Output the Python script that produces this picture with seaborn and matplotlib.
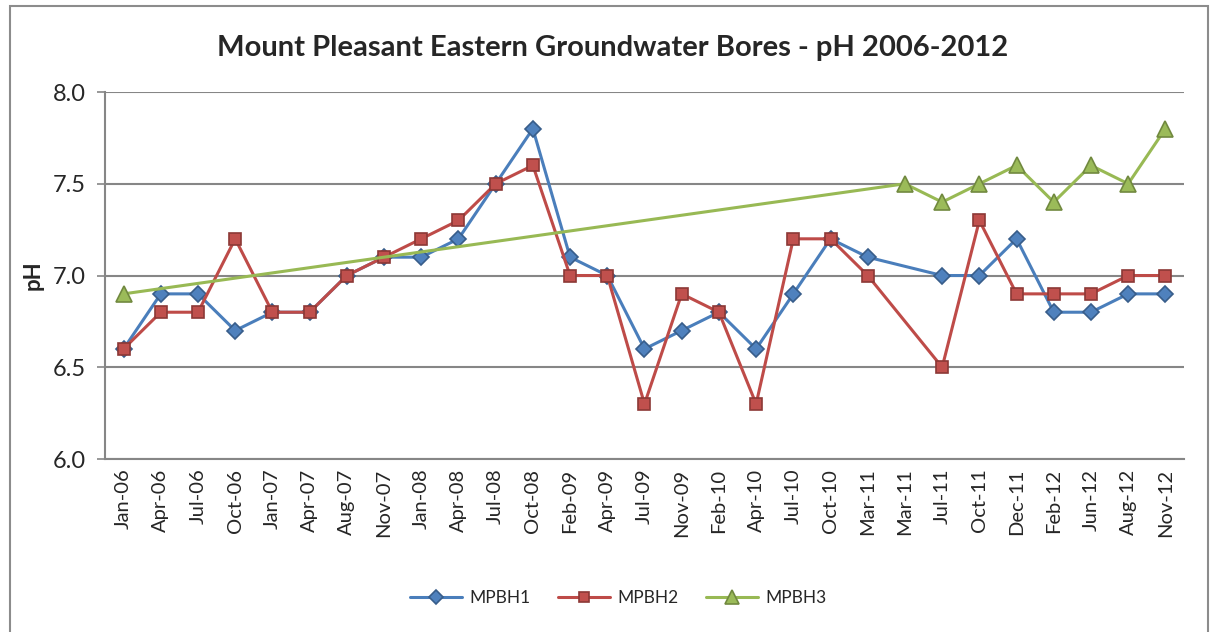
import numpy as np
import pandas as pd
import matplotlib
matplotlib.use("Agg")
import matplotlib.pyplot as plt
import seaborn as sns
from matplotlib.patches import Rectangle
from matplotlib.lines import Line2D

sns.set_theme(style="white")
plt.rcParams['font.family'] = ['Lato', 'DejaVu Sans']

# 数据
dates = ['Jan-06', 'Apr-06', 'Jul-06', 'Oct-06', 'Jan-07', 'Apr-07', 'Aug-07', 'Nov-07',
         'Jan-08', 'Apr-08', 'Jul-08', 'Oct-08', 'Feb-09', 'Apr-09', 'Jul-09', 'Nov-09',
         'Feb-10', 'Apr-10', 'Jul-10', 'Oct-10', 'Mar-11', 'Mar-11', 'Jul-11', 'Oct-11',
         'Dec-11', 'Feb-12', 'Jun-12', 'Aug-12', 'Nov-12']
nan = np.nan
mpbh1 = [6.6, 6.9, 6.9, 6.7, 6.8, 6.8, 7.0, 7.1, 7.1, 7.2, 7.5, 7.8, 7.1, 7.0, 6.6, 6.7,
         6.8, 6.6, 6.9, 7.2, 7.1, nan, 7.0, 7.0, 7.2, 6.8, 6.8, 6.9, 6.9]
mpbh2 = [6.6, 6.8, 6.8, 7.2, 6.8, 6.8, 7.0, 7.1, 7.2, 7.3, 7.5, 7.6, 7.0, 7.0, 6.3, 6.9,
         6.8, 6.3, 7.2, 7.2, 7.0, nan, 6.5, 7.3, 6.9, 6.9, 6.9, 7.0, 7.0]
mpbh3 = [6.9, nan, nan, nan, nan, nan, nan, nan, nan, nan, nan, nan, nan, nan, nan, nan,
         nan, nan, nan, nan, nan, 7.5, 7.4, 7.5, 7.6, 7.4, 7.6, 7.5, 7.8]

series = {'MPBH1': mpbh1, 'MPBH2': mpbh2, 'MPBH3': mpbh3}
styles = {
    'MPBH1': dict(color='#4A7EBB', marker='D', mfc='#4F81BD', mec='#385D8A', ms=8.5),
    'MPBH2': dict(color='#BE4B48', marker='s', mfc='#C0504D', mec='#8C3836', ms=9),
    'MPBH3': dict(color='#98B954', marker='^', mfc='#9BBB59', mec='#71893F', ms=11.5),
}

fig = plt.figure(figsize=(12.15, 6.32), dpi=100)
ax = fig.add_axes([0.0864, 0.2737, 0.8881, 0.5807])

# 图框
fig.patches.append(Rectangle((10 / 1215, -0.01), 1198 / 1215, 1 - 6 / 632 + 0.01,
                             transform=fig.transFigure, fill=False,
                             edgecolor='#8C8C8C', linewidth=1.5))

x = np.arange(len(dates))
handles = []
for name, vals in series.items():
    df = pd.DataFrame({'x': x, 'y': vals}).dropna()
    st = styles[name]
    sns.lineplot(data=df, x='x', y='y', ax=ax, color=st['color'], linewidth=2.2,
                 marker=st['marker'], markersize=st['ms'], markerfacecolor=st['mfc'],
                 markeredgecolor=st['mec'], markeredgewidth=1.2, zorder=3)
    handles.append(Line2D([], [], color=st['color'], linewidth=2.2, marker=st['marker'],
                          markersize=st['ms'] - 1.5, markerfacecolor=st['mfc'],
                          markeredgecolor=st['mec'], markeredgewidth=1.2, label=name))

ax.set_xlim(-0.5, len(dates) - 0.5)
ax.set_ylim(6.0, 8.0)
ax.set_yticks([6.0, 6.5, 7.0, 7.5, 8.0])
ax.set_yticklabels([f'{v:.1f}' for v in [6.0, 6.5, 7.0, 7.5, 8.0]], fontsize=17)
ax.set_xticks(x)
ax.set_xticklabels(dates, rotation=90, fontsize=14.5)
ax.set_xticks(np.arange(len(dates) + 1) - 0.5, minor=True)
ax.tick_params(axis='x', which='major', length=0, pad=7)
ax.tick_params(axis='x', which='minor', length=6, color='#868686', width=1.2)
ax.tick_params(axis='y', length=6, color='#868686', width=1.2, left=True, pad=8)

ax.yaxis.grid(True, color='#868686', linewidth=1.5)
ax.xaxis.grid(False)
ax.set_axisbelow(True)
for s in ['top', 'right']:
    ax.spines[s].set_visible(False)
for s in ['left', 'bottom']:
    ax.spines[s].set_color('#868686')
    ax.spines[s].set_linewidth(1.5)

ax.set_xlabel('')
ax.set_ylabel('pH', fontsize=16, fontweight='bold', labelpad=6)
ax.set_title('Mount Pleasant Eastern Groundwater Bores - pH 2006-2012',
             fontsize=21, fontweight='bold', pad=26, x=0.47)

fig.legend(handles=handles, loc='center', bbox_to_anchor=(0.509, 1 - 598 / 632), ncol=3,
           frameon=False, fontsize=12.5, handlelength=3.0, columnspacing=1.6,
           handletextpad=0.4)

fig.savefig('out.png', dpi=100)
